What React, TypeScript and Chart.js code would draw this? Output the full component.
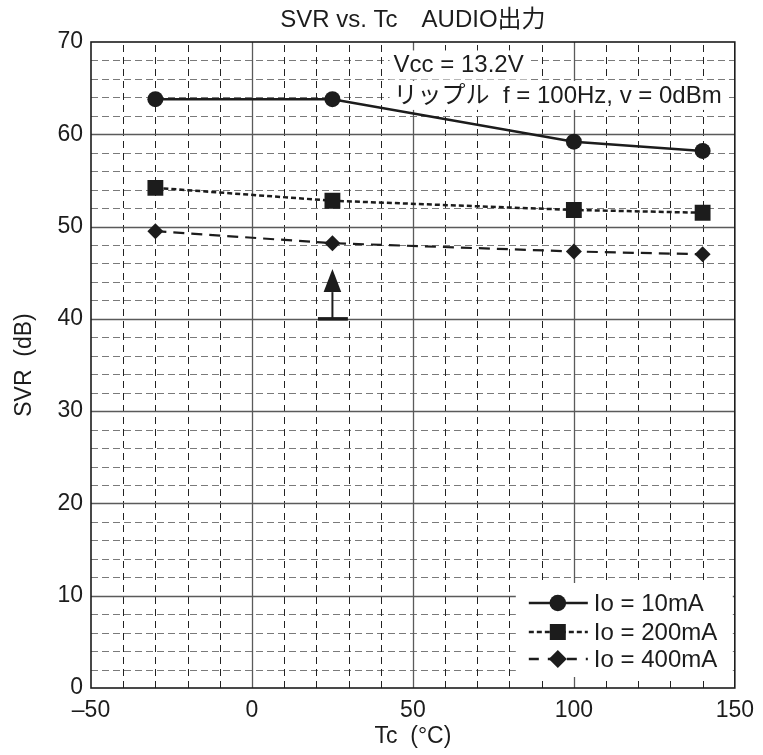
import React, { useEffect, useRef } from "react";
import { Chart, registerables } from "chart.js";

Chart.register(...registerables);

// ---- data ----
const tcValues = [-30, 25, 100, 140];
const svr10mA = [63.8, 63.8, 59.2, 58.2];
const svr200mA = [54.2, 52.8, 51.8, 51.5];
const svr400mA = [49.5, 48.2, 47.3, 47.0];
const seriesLabels = ["Io = 10mA", "Io = 200mA", "Io = 400mA"];
const xTicks = [-50, 0, 50, 100, 150];
const yTicks = [0, 10, 20, 30, 40, 50, 60, 70];
const xMinorStep = 10;
const yMinorStep = 2;
const titleText = "SVR vs. Tc　AUDIO出力";
const xTitle = "Tc  (°C)";
const yTitle = "SVR  (dB)";
const noteLines = ["Vcc = 13.2V", "リップル  f = 100Hz, v = 0dBm"];
const noteX = 44;
const noteY = [66.7, 63.4];
// arrow marker at Tc = 25
const arrowX = 25;
const arrowBase = 40;
const arrowHeadBase = 42.9;
const arrowTip = 45.4;
const arrowBarFrom = 20.5;
const arrowBarTo = 29.8;

const FONT = '"Liberation Sans", Arial, "Noto Sans CJK JP", sans-serif';
const INK = "#1c1c1c";

function toXY(xs: number[], ys: number[]) {
  return xs.map((x, i) => ({ x, y: ys[i] }));
}

function drawMarker(ctx: CanvasRenderingContext2D, style: string, x: number, y: number) {
  ctx.beginPath();
  if (style === "circle") {
    ctx.arc(x, y, 8.3, 0, Math.PI * 2);
  } else if (style === "rect") {
    ctx.rect(x - 8, y - 8, 16, 16);
  } else {
    ctx.moveTo(x, y - 9);
    ctx.lineTo(x + 9, y);
    ctx.lineTo(x, y + 9);
    ctx.lineTo(x - 9, y);
    ctx.closePath();
  }
  ctx.fill();
}

const decorPlugin = {
  id: "decor",
  beforeDatasetsDraw(chart: any) {
    const { ctx, chartArea: ca } = chart;
    const xs = chart.scales.x;
    const ys = chart.scales.y;
    const line = (x1: number, y1: number, x2: number, y2: number) => {
      ctx.beginPath();
      ctx.moveTo(x1, y1);
      ctx.lineTo(x2, y2);
      ctx.stroke();
    };
    ctx.save();
    ctx.lineWidth = 1;
    // minor horizontal dashed
    ctx.setLineDash([7, 4]);
    ctx.strokeStyle = "#7a7a7a";
    for (let v = ys.min + yMinorStep; v < ys.max; v += yMinorStep) {
      if (yTicks.includes(v)) continue;
      const py = Math.round(ys.getPixelForValue(v)) + 0.5;
      line(ca.left, py, ca.right, py);
    }
    // minor vertical dashed
    ctx.strokeStyle = "#222";
    ctx.setLineDash([7, 5]);
    for (let v = xs.min + xMinorStep; v < xs.max; v += xMinorStep) {
      if (xTicks.includes(v)) continue;
      const px = Math.round(xs.getPixelForValue(v)) + 0.5;
      line(px, ca.bottom, px, ca.top);
    }
    // major solid
    ctx.setLineDash([]);
    ctx.strokeStyle = "#5a5a5a";
    ctx.lineWidth = 1.3;
    yTicks.forEach((v) => {
      if (v === ys.min || v === ys.max) return;
      const py = Math.round(ys.getPixelForValue(v)) + 0.5;
      line(ca.left, py, ca.right, py);
    });
    xTicks.forEach((v) => {
      if (v === xs.min || v === xs.max) return;
      const px = Math.round(xs.getPixelForValue(v)) + 0.5;
      line(px, ca.top, px, ca.bottom);
    });
    // frame
    ctx.strokeStyle = INK;
    ctx.lineWidth = 1.6;
    ctx.strokeRect(ca.left, ca.top, ca.right - ca.left, ca.bottom - ca.top);

    // note text with white boxes
    ctx.font = `24px ${FONT}`;
    ctx.textBaseline = "alphabetic";
    ctx.textAlign = "left";
    const nx = xs.getPixelForValue(noteX);
    noteLines.forEach((t, i) => {
      const py = ys.getPixelForValue(noteY[i]);
      const w = ctx.measureText(t).width;
      ctx.fillStyle = "#fff";
      ctx.fillRect(nx - 4, py - 22, w + 8, 29);
    });
    ctx.fillStyle = INK;
    noteLines.forEach((t, i) => {
      const py = ys.getPixelForValue(noteY[i]);
      ctx.fillText(t, nx, py);
    });
    ctx.restore();
  },
  afterDatasetsDraw(chart: any) {
    const { ctx, chartArea: ca } = chart;
    const xs = chart.scales.x;
    const ys = chart.scales.y;
    ctx.save();
    // arrow
    ctx.fillStyle = INK;
    ctx.strokeStyle = INK;
    const ax = xs.getPixelForValue(arrowX);
    const yb = ys.getPixelForValue(arrowBase);
    const yh = ys.getPixelForValue(arrowHeadBase);
    const yt = ys.getPixelForValue(arrowTip);
    ctx.lineWidth = 3.5;
    ctx.beginPath();
    ctx.moveTo(xs.getPixelForValue(arrowBarFrom), yb);
    ctx.lineTo(xs.getPixelForValue(arrowBarTo), yb);
    ctx.stroke();
    ctx.lineWidth = 2;
    ctx.beginPath();
    ctx.moveTo(ax, yb);
    ctx.lineTo(ax, yh);
    ctx.stroke();
    ctx.beginPath();
    ctx.moveTo(ax, yt);
    ctx.lineTo(ax + 8.8, yh);
    ctx.lineTo(ax - 8.8, yh);
    ctx.closePath();
    ctx.fill();

    // legend
    const lx = ca.right - 219;
    const ly = ca.bottom - 105;
    ctx.fillStyle = "#fff";
    ctx.fillRect(lx, ly, 217, 94);
    const rows = [ca.bottom - 85, ca.bottom - 56, ca.bottom - 29];
    const dashes = [[], [5, 3], [10, 9]];
    const styles = ["circle", "rect", "rectRot"];
    ctx.font = `24px ${FONT}`;
    ctx.textBaseline = "middle";
    ctx.textAlign = "left";
    rows.forEach((ry, i) => {
      ctx.strokeStyle = INK;
      ctx.lineWidth = 2.5;
      ctx.setLineDash(dashes[i]);
      ctx.beginPath();
      ctx.moveTo(ca.right - 206, ry);
      ctx.lineTo(ca.right - 147, ry);
      ctx.stroke();
      ctx.setLineDash([]);
      ctx.fillStyle = INK;
      drawMarker(ctx, styles[i], ca.right - 177, ry);
      ctx.fillText(seriesLabels[i], ca.right - 141, ry + 1);
    });
    ctx.restore();
  },
  afterDraw(chart: any) {
    const { ctx, chartArea: ca } = chart;
    ctx.save();
    ctx.font = `24px ${FONT}`;
    ctx.fillStyle = INK;
    ctx.textAlign = "center";
    ctx.textBaseline = "alphabetic";
    ctx.fillText(titleText, (ca.left + ca.right) / 2, 27);
    ctx.restore();
  },
};

export default function App() {
  const ref = useRef<HTMLCanvasElement>(null);
  useEffect(() => {
    document.body.style.margin = "0";
    const canvas = ref.current!;
    const chart = new Chart(canvas, {
      type: "line",
      data: {
        datasets: [
          {
            label: seriesLabels[0],
            data: toXY(tcValues, svr10mA),
            borderColor: INK,
            backgroundColor: INK,
            borderWidth: 2.5,
            pointStyle: "circle",
            pointRadius: 8,
            pointBorderWidth: 0,
            tension: 0,
          },
          {
            label: seriesLabels[1],
            data: toXY(tcValues, svr200mA),
            borderColor: INK,
            backgroundColor: INK,
            borderWidth: 2.5,
            borderDash: [5, 3],
            pointStyle: "rect",
            pointRadius: 11.2,
            pointBorderWidth: 0,
            tension: 0,
          },
          {
            label: seriesLabels[2],
            data: toXY(tcValues, svr400mA),
            borderColor: INK,
            backgroundColor: INK,
            borderWidth: 2.2,
            borderDash: [11, 7],
            pointStyle: "rectRot",
            pointRadius: 8,
            pointBorderWidth: 0,
            tension: 0,
          },
        ],
      },
      options: {
        responsive: false,
        animation: false,
        layout: { padding: { left: 0, right: 24, top: 42, bottom: 0 } },
        plugins: {
          legend: { display: false },
          tooltip: { enabled: false },
          title: { display: false },
        },
        scales: {
          x: {
            type: "linear",
            min: -50,
            max: 150,
            afterBuildTicks: (s: any) => {
              s.ticks = xTicks.map((v) => ({ value: v }));
            },
            afterFit: (s: any) => {
              s.height = 67;
            },
            grid: { display: false, drawTicks: false },
            border: { display: false },
            ticks: {
              color: INK,
              font: { family: FONT, size: 23 },
              padding: 9,
              maxRotation: 0,
              callback: (v: any) => String(v).replace("-", "–"),
            },
            title: {
              display: true,
              text: xTitle,
              color: INK,
              font: { family: FONT, size: 23 },
              padding: { top: 0, bottom: 5 },
            },
          },
          y: {
            type: "linear",
            min: 0,
            max: 70,
            afterBuildTicks: (s: any) => {
              s.ticks = yTicks.map((v) => ({ value: v }));
            },
            afterFit: (s: any) => {
              s.width = 91;
            },
            grid: { display: false, drawTicks: false },
            border: { display: false },
            ticks: {
              color: INK,
              font: { family: FONT, size: 23 },
              padding: 8,
            },
            title: {
              display: true,
              text: yTitle,
              color: INK,
              font: { family: FONT, size: 23 },
              padding: { top: 11, bottom: 0 },
            },
          },
        },
      },
      plugins: [decorPlugin],
    } as any);
    return () => chart.destroy();
  }, []);
  return (
    <div style={{ width: 763, height: 755, background: "#fff" }}>
      <canvas ref={ref} width={763} height={755} style={{ display: "block" }} />
    </div>
  );
}
